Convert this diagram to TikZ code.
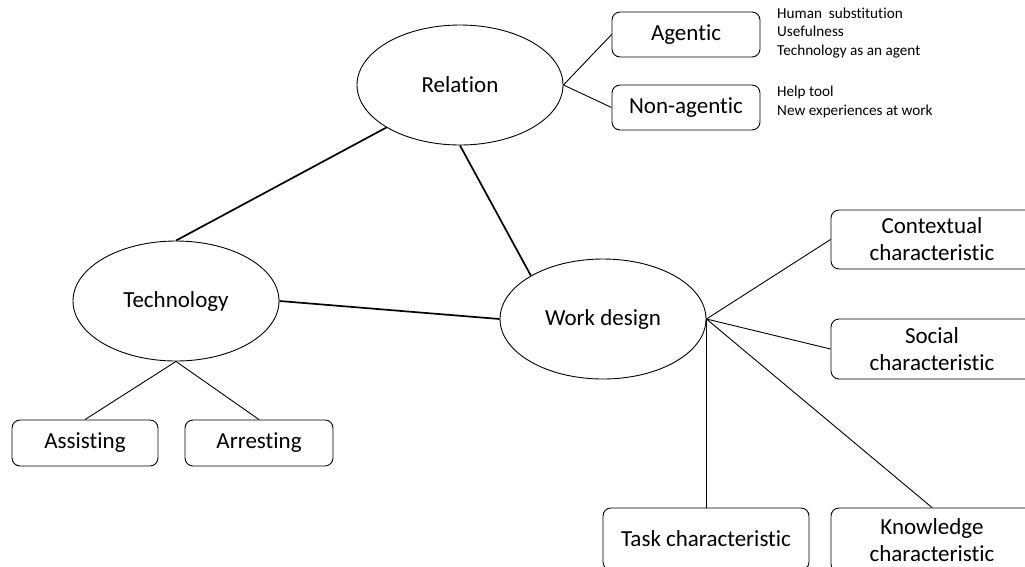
\documentclass[tikz,border=0pt]{standalone}
\usepackage{fontspec}
\setmainfont{Carlito}[Ligatures=NoCommon]
\usetikzlibrary{shapes.geometric}
\begin{document}
\begin{tikzpicture}[x=1pt,y=-1pt,
  ell/.style={draw, ellipse, line width=0.9pt, inner sep=0pt, minimum width=206pt, minimum height=120pt, font=\fontsize{23}{27}\selectfont},
  bx/.style={draw, rectangle, rounded corners=8pt, line width=0.9pt, inner sep=0pt, align=center, font=\fontsize{23}{27}\selectfont},
  note/.style={anchor=west, align=left, inner sep=0pt, font=\fontsize{15.2}{18.5}\selectfont},
  thick link/.style={line width=1.7pt},
  thin link/.style={line width=0.9pt}]
\useasboundingbox (0,0) rectangle (1025,566);
\clip (0,0) rectangle (1025,566);
\fill[white] (0,0) rectangle (1025,566);

\node[ell] (rel) at (460,85) {Relation};
\node[ell] (tech) at (176,301) {Technology};
\node[ell] (wd) at (603,319) {Work design};

\node[bx, minimum width=148pt, minimum height=45pt] (ag) at (686,34.5) {Agentic};
\node[bx, minimum width=148pt, minimum height=45pt] (nag) at (686,107.5) {Non-agentic};
\node[note] (agn) at (777,33) {Human\ \ substitution\\Usefulness\\Technology as an agent};
\node[note] (nagn) at (777,102) {Help tool\\New experiences at work};

\node[bx, minimum width=146pt, minimum height=46pt] (as) at (85,443) {Assisting};
\node[bx, minimum width=148pt, minimum height=46pt] (ar) at (259,443) {Arresting};

\node[bx, minimum width=202pt, minimum height=59pt] (ctx) at (932,239.5) {Contextual\\characteristic};
\node[bx, minimum width=202pt, minimum height=60pt] (soc) at (932,349) {Social\\characteristic};
\node[bx, minimum width=206pt, minimum height=62pt] (task) at (706,539) {Task characteristic};
\node[bx, minimum width=202pt, minimum height=64pt] (know) at (932,540) {Knowledge\\characteristic};

\draw[thick link] (tech.north) -- (rel.210);
\draw[thick link] (rel.south) -- (wd.149);
\draw[thick link] (tech.east) -- (wd.west);

\draw[thin link] (rel.east) -- (ag.west);
\draw[thin link] (rel.east) -- (nag.west);

\draw[thin link] (tech.south) -- (as.north);
\draw[thin link] (tech.south) -- (ar.north);

\draw[thin link] (wd.east) -- (ctx.west);
\draw[thin link] (wd.east) -- (soc.west);
\draw[thin link] (wd.east) -- (wd.east |- task.north);
\draw[thin link] (wd.east) -- (know.north);
\end{tikzpicture}
\end{document}
